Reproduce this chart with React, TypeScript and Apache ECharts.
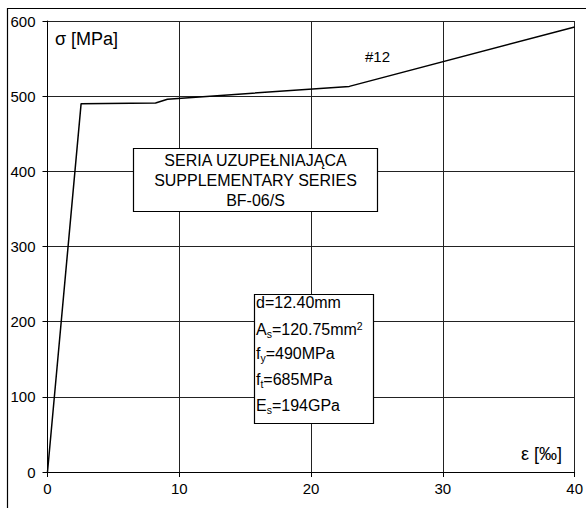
import React, { useEffect, useRef } from "react";
import * as echarts from "echarts";

const strain = [0, 2.55, 8.2, 9.1, 22.9, 40];
const stress = [0, 490, 491, 496, 513, 592];
const xTicks = [0, 10, 20, 30, 40];
const yTicks = [0, 100, 200, 300, 400, 500, 600];
const seriesName = "#12";
const titleLines = ["SERIA UZUPEŁNIAJĄCA", "SUPPLEMENTARY SERIES", "BF-06/S"];

const FONT = "'Liberation Sans', Arial, sans-serif";

export default function App() {
  const ref = useRef<HTMLDivElement>(null);
  useEffect(() => {
    const chart = echarts.init(ref.current!, null, { renderer: "svg" });
    const data = strain.map((x, i) => [x, stress[i]]);
    const box2x = 254.5;
    const box2y = 294.5;
    const lineY = [304, 329, 355, 381, 407];
    const t = (y: number, text: string) => ({
      type: "text",
      left: box2x + 1.5,
      top: y - 10,
      silent: true,
      style: {
        text,
        fill: "#000",
        font: `16px ${FONT}`,
        rich: {
          n: { fontSize: 16, fontFamily: FONT, fill: "#000", lineHeight: 20, verticalAlign: "middle" },
          sub: { fontSize: 10.5, fontFamily: FONT, fill: "#000", lineHeight: 20, verticalAlign: "bottom", padding: [0, 0, 0, 0] },
          sup: { fontSize: 10.5, fontFamily: FONT, fill: "#000", lineHeight: 20, verticalAlign: "top", padding: [1, 0, 0, 0] },
        },
      },
    });
    chart.setOption({
      animation: false,
      backgroundColor: "#fff",
      grid: { left: 47.5, top: 21, right: 10, bottom: 36, containLabel: false },
      xAxis: {
        type: "value",
        min: 0,
        max: 40,
        interval: 10,
        axisLine: { show: true, onZero: false, lineStyle: { color: "#000", width: 1 } },
        axisTick: { show: true, length: 5, lineStyle: { color: "#000" } },
        axisLabel: { color: "#000", fontSize: 15, fontFamily: FONT, margin: 9,
          formatter: (v: number) => (xTicks.includes(v) ? String(v) : "") },
        splitLine: { show: true, lineStyle: { color: "#222", width: 1 } },
      },
      yAxis: {
        type: "value",
        min: 0,
        max: 600,
        interval: 100,
        axisLine: { show: true, lineStyle: { color: "#000", width: 1 } },
        axisTick: { show: true, length: 5, lineStyle: { color: "#000" } },
        axisLabel: { color: "#000", fontSize: 15, fontFamily: FONT, margin: 12,
          formatter: (v: number) => (yTicks.includes(v) ? String(v) : "") },
        splitLine: { show: true, lineStyle: { color: "#222", width: 1 } },
      },
      series: [
        {
          name: seriesName,
          type: "line",
          data,
          showSymbol: false,
          lineStyle: { color: "#000", width: 1.5 },
          z: 3,
        },
      ],
      graphic: [
        {
          type: "rect",
          silent: true,
          shape: { x: 7.5, y: 8.5, width: 600, height: 600 },
          style: { fill: "none", stroke: "#000", lineWidth: 1.2 },
          z: 100,
        },
        {
          type: "text",
          left: 55,
          top: 30,
          silent: true,
          style: { text: "σ [MPa]", fill: "#000", font: `18px ${FONT}` },
        },
        {
          type: "text",
          left: 521,
          top: 445,
          silent: true,
          style: { text: "ε [‰]", fill: "#000", font: `18px ${FONT}` },
        },
        {
          type: "text",
          left: 365,
          top: 49,
          silent: true,
          style: { text: seriesName, fill: "#000", font: `15px ${FONT}` },
        },
        {
          type: "rect",
          silent: true,
          shape: { x: 133.5, y: 148.5, width: 244, height: 63 },
          style: { fill: "#fff", stroke: "#000", lineWidth: 1.2 },
          z: 50,
        },
        {
          type: "text",
          x: 255.5,
          y: 180,
          silent: true,
          z: 51,
          style: {
            text: titleLines.join("\n"),
            fill: "#000",
            font: `16px ${FONT}`,
            lineHeight: 20,
            align: "center",
            verticalAlign: "middle",
          },
        },
        {
          type: "rect",
          silent: true,
          shape: { x: box2x, y: box2y, width: 119, height: 129 },
          style: { fill: "#fff", stroke: "#000", lineWidth: 1.2 },
          z: 50,
        },
        { ...t(lineY[0], "{n|d=12.40mm}"), z: 51 },
        { ...t(lineY[1], "{n|A}{sub|s}{n|=120.75mm}{sup|2}"), z: 51 },
        { ...t(lineY[2], "{n|f}{sub|y}{n|=490MPa}"), z: 51 },
        { ...t(lineY[3], "{n|f}{sub|t}{n|=685MPa}"), z: 51 },
        { ...t(lineY[4], "{n|E}{sub|s}{n|=194GPa}"), z: 51 },
      ],
    });
    return () => chart.dispose();
  }, []);
  return <div ref={ref} style={{ width: 586, height: 508, position: "absolute", left: 0, top: 0 }} />;
}
